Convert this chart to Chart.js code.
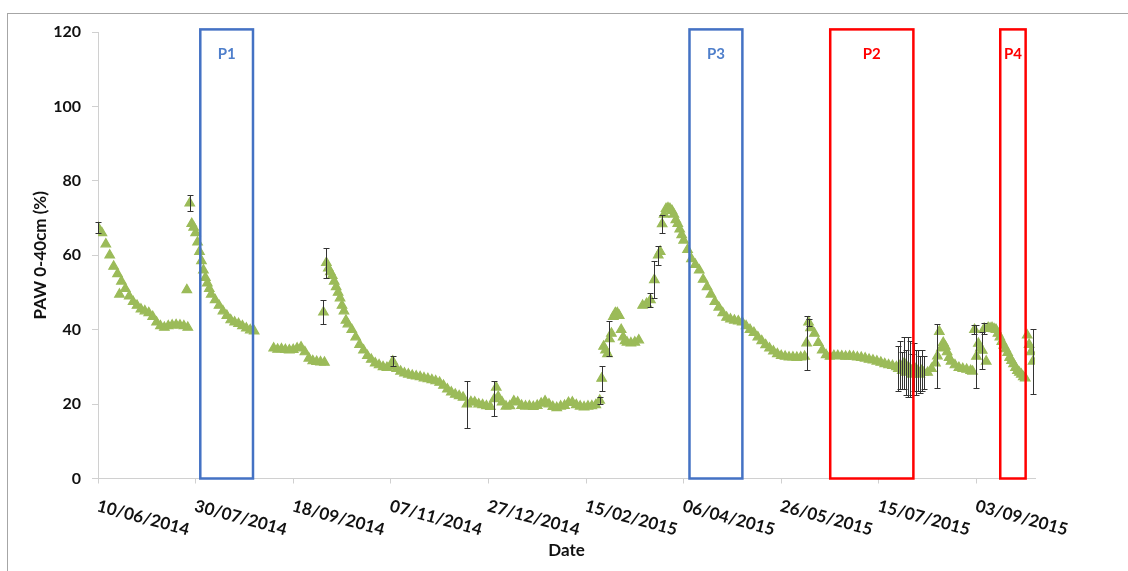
<!DOCTYPE html>
<html>
<head>
<meta charset="utf-8">
<script src="https://cdn.jsdelivr.net/npm/chart.js@4.4.1/dist/chart.umd.min.js"></script>
<style>
  html, body { margin: 0; padding: 0; background: #fff; }
  #wrap { position: relative; width: 1128px; height: 571px; overflow: hidden; }
  #frame { position: absolute; left: 7px; top: 13px; width: 1200px; height: 700px; border: 1px solid #a6a6a6; }
  canvas { position: absolute; left: 0; top: 0; }
</style>
</head>
<body>
<div id="wrap">
  <div id="frame"></div>
  <canvas id="pawChart" width="1128" height="571"></canvas>
</div>
<script>
// days counted from 10/06/2014
const dayOffsets = [
    0, 2, 4, 6, 8, 10, 11, 12, 14, 16, 18, 20, 22, 24, 26, 28, 30, 32, 34, 36, 38, 40, 42, 44, 46, 45.5, 47,
    48, 49, 50, 51, 52, 53, 54, 55, 56, 57, 58, 60, 62, 64, 66, 68, 70, 72, 74, 76, 78, 80,
    90, 92, 94, 96, 98, 100, 102, 104, 106, 108, 110, 112, 114, 116, 115.5,
    117, 118, 119, 120, 121, 122, 123, 124, 125, 126, 127, 128, 130, 132, 134, 136, 138, 140, 142, 144, 146, 148, 150, 151,
    153, 155, 157, 159, 161, 163, 165, 167, 169, 171, 173, 175, 177, 179, 181, 183, 185, 187, 189, 191, 193, 195, 197, 199,
    201, 203, 204, 205, 207, 209, 211, 213, 215, 217, 219, 221, 223, 225, 227, 229, 231, 233, 235, 237, 239, 241, 243, 245,
    247, 249, 251, 253, 255, 257, 258, 259, 260, 261, 262, 263, 264, 265, 266, 267, 268, 269, 270, 271, 273, 275, 277,
    279, 281, 283, 285, 287, 288, 289, 290, 291, 292, 293, 294, 295, 296, 297, 298, 299, 300, 302, 304, 306, 308, 310,
    312, 314, 316, 318, 320, 322, 324, 326, 328, 330, 332, 334, 336, 338, 340, 342, 344, 346, 348, 350, 352, 354, 356,
    358, 360, 362, 363, 364, 365, 367, 369, 371, 373, 375, 377, 379, 381, 383, 385, 387, 389, 391, 393, 395, 397, 399,
    401, 403, 405, 407, 409, 410, 411, 412, 413, 414, 415, 416, 417, 418, 419, 420, 421, 422, 423, 425, 427, 429, 430,
    431, 432, 433, 434, 435, 436, 437, 439, 441, 443, 445, 447, 448, 449, 450, 451, 452, 453, 454, 455, 456, 457, 458,
    459, 460, 461, 462, 463, 464, 465, 466, 467, 468, 469, 470, 471, 472, 473, 474, 475, 476, 477, 478, 479
];
const pawValues = [
    67.5, 66, 63, 60, 57, 55, 49.5, 53, 51, 49, 47.5, 46.5, 45.5, 45, 44.5, 43.5, 42, 41, 40.6, 41, 41.2, 41.3, 41.2, 41, 40.6, 50.7, 74,
    68.5, 67.5, 66, 63.5, 61, 58.5, 56, 54, 52.5, 51, 49.5, 48, 46.5, 45, 43.8, 42.6, 42, 41.6, 41, 40.4, 39.9, 39.6,
    35, 34.7, 34.8, 34.6, 34.5, 34.6, 35, 35.3, 34, 32.3, 31.6, 31.4, 31.3, 31.2, 44.7,
    58, 56.5, 55.5, 54.5, 53, 51.5, 50, 48.5, 46.5, 45, 42.5, 41.5, 40, 38, 36, 34.5, 33, 32, 31, 30.5, 30, 29.8, 30.2, 31.5,
    29.5, 28.8, 28.3, 28, 27.7, 27.5, 27.3, 27, 26.8, 26.5, 26.2, 25.8, 25, 24, 23.2, 22.6, 22.2, 21.8, 20, 20.6, 20.5, 20, 19.8, 19.5,
    19.3, 21.4, 24.5, 22, 20.5, 19.4, 19.5, 20.8, 20.5, 19.6, 19.4, 19.5, 19.3, 19.6, 20.2, 20.8, 20, 19.3, 19, 19.4, 19.6, 20.4, 20.5, 19.8,
    19.4, 19.2, 19.4, 19.5, 19.8, 21, 26.9, 35.5, 34.5, 33.5, 37.5, 39, 43.5, 44.5, 44.5, 43.8, 40, 38, 37, 36.6, 36.4, 36.6, 37.2,
    46.5, 47, 48, 53.4, 60, 61, 68.4, 71, 72.5, 72.7, 72.5, 72, 71, 69.5, 68.5, 67, 65.5, 64, 61.5, 59, 57.5, 56, 53.5,
    51.5, 49.5, 47.5, 46, 44.5, 43.3, 42.8, 42.5, 42.3, 42, 41, 40, 39.2, 38, 37, 35.9, 35, 34.2, 33.5, 33, 32.8, 32.6, 32.6,
    32.5, 32.6, 32.8, 36.4, 42, 40.5, 39, 36.5, 34.5, 33.2, 32.8, 33, 33, 32.9, 32.8, 32.9, 32.8, 32.6, 32.5, 32.3, 32, 31.8, 31.5,
    31.2, 30.8, 30.5, 30.3, 30, 29.5, 30.5, 29, 31, 28.5, 30, 29.5, 28, 30, 28.5, 29, 28, 29, 28.5, 28.5, 29.5, 31, 32.9,
    39.5, 35, 36.5, 35.5, 34, 32.5, 31.5, 30.5, 29.8, 29.5, 29.3, 29, 28.8, 40, 32.8, 36.3, 35, 34.4, 40.3, 31.5, 40.5, 40.4, 40.5,
    40.2, 40, 39, 38, 36.8, 35.8, 34.8, 33.8, 32.5, 31.7, 30.8, 29.8, 29, 28.5, 28, 27.3, 27, 38.5, 36, 34, 31.5
];
// error bars (± PAW %) on the points where they are visible
const errorDays = [0, 47, 115.5, 117, 151, 189, 203, 257, 258, 262, 283, 285, 287, 289, 363, 364,
    410, 411, 412, 413, 414, 415, 416, 417, 418, 419, 420, 421, 422, 423, 430, 449, 450, 453, 454, 479];
const errorSizes = [1.5, 2.1, 3.3, 4, 1.3, 6.3, 4.7, 1, 3.4, 4.7, 1.8, 5, 2.5, 2.5, 7.2, 1,
    6, 6.5, 5, 7, 6, 8, 7.5, 5.5, 6.5, 6, 5.5, 5, 5.5, 4.5, 8.7, 1.2, 8.5, 5, 1.5, 8.7];

const dateLabels = ['10/06/2014', '30/07/2014', '18/09/2014', '07/11/2014', '27/12/2014',
    '15/02/2015', '06/04/2015', '26/05/2015', '15/07/2015', '03/09/2015'];

const periodLabels = ['P1', 'P3', 'P2', 'P4'];
const periodStart = [52.4, 303, 375.1, 462.2];
const periodEnd = [79.4, 330.1, 417.7, 475.2];
const periodColors = ['#4472C4', '#4472C4', '#FF0000', '#FF0000'];
const periodTextColors = ['#4F7FCB', '#4F7FCB', '#FF0000', '#FF0000'];

const FONT = 'Lato, "Open Sans", sans-serif';

const errorBarPlugin = {
    id: 'errorBars',
    afterDatasetsDraw(chart) {
        const { ctx, scales: { x, y } } = chart;
        ctx.save();
        ctx.strokeStyle = '#333333';
        ctx.lineWidth = 1;
        errorDays.forEach((d, i) => {
            const idx = dayOffsets.indexOf(d);
            if (idx < 0) return;
            const v = pawValues[idx], e = errorSizes[i];
            const px = Math.round(x.getPixelForValue(d)) + 0.5;
            const top = Math.round(y.getPixelForValue(v + e)) + 0.5;
            const bot = Math.round(y.getPixelForValue(v - e)) + 0.5;
            ctx.beginPath();
            ctx.moveTo(px, top); ctx.lineTo(px, bot);
            ctx.moveTo(px - 3, top); ctx.lineTo(px + 3, top);
            ctx.moveTo(px - 3, bot); ctx.lineTo(px + 3, bot);
            ctx.stroke();
        });
        ctx.restore();
    }
};

const decorPlugin = {
    id: 'decor',
    afterDraw(chart) {
        const { ctx, chartArea, scales: { x, y } } = chart;
        ctx.save();

        // period boxes
        periodLabels.forEach((lab, i) => {
            const l = x.getPixelForValue(periodStart[i]);
            const r = x.getPixelForValue(periodEnd[i]);
            const t = y.getPixelForValue(120.7);
            const b = y.getPixelForValue(0);
            ctx.strokeStyle = periodColors[i];
            ctx.lineWidth = 2.5;
            ctx.strokeRect(l, t, r - l, b - t);
            ctx.fillStyle = periodTextColors[i];
            ctx.font = 'bold 15px ' + FONT;
            ctx.textAlign = 'center';
            ctx.textBaseline = 'middle';
            ctx.fillText(lab, (l + r) / 2, t + 25);
        });

        // rotated date labels
        ctx.fillStyle = '#111';
        ctx.font = 'bold 17px ' + FONT;
        ctx.textAlign = 'left';
        ctx.textBaseline = 'alphabetic';
        x.ticks.forEach(t => {
            const lab = dateLabels[Math.round(t.value / 50)];
            if (!lab) return;
            ctx.save();
            ctx.translate(x.getPixelForValue(t.value) - 2, 511);
            ctx.rotate(15 * Math.PI / 180);
            ctx.fillText(lab, 0, 0);
            ctx.restore();
        });

        // axis titles
        ctx.textAlign = 'center';
        ctx.textBaseline = 'middle';
        ctx.fillText('Date', (chartArea.left + chartArea.right) / 2, 551);
        ctx.save();
        ctx.translate(41, (chartArea.top + chartArea.bottom) / 2);
        ctx.rotate(-Math.PI / 2);
        ctx.fillText('PAW 0-40cm (%)', 0, 0);
        ctx.restore();

        ctx.restore();
    }
};

new Chart(document.getElementById('pawChart'), {
    type: 'scatter',
    data: {
        datasets: [{
            label: 'PAW 0-40cm',
            data: dayOffsets.map((d, i) => ({ x: d, y: pawValues[i] })),
            pointStyle: 'triangle',
            pointRadius: 5.5,
            pointBorderWidth: 1.2,
            backgroundColor: '#9BBB59',
            borderColor: '#9BBB59'
        }]
    },
    options: {
        responsive: false,
        animation: false,
        layout: { padding: { top: 32, right: 93, left: 0, bottom: 0 } },
        plugins: {
            legend: { display: false },
            tooltip: { enabled: false }
        },
        scales: {
            x: {
                type: 'linear',
                min: 0,
                max: 480,
                afterFit: (scale) => { scale.height = 92.5; },
                ticks: { stepSize: 50, includeBounds: false, display: false },
                grid: { drawOnChartArea: false, tickLength: 5, color: '#d0d0d0' },
                border: { color: '#d0d0d0' }
            },
            y: {
                min: 0,
                max: 120,
                afterFit: (scale) => { scale.width = 98; },
                ticks: {
                    stepSize: 20,
                    padding: 11,
                    color: '#111',
                    font: { family: FONT, size: 16, weight: 'bold' }
                },
                grid: { drawOnChartArea: false, tickLength: 6, color: '#d0d0d0' },
                border: { color: '#d0d0d0' }
            }
        }
    },
    plugins: [errorBarPlugin, decorPlugin]
});
</script>
</body>
</html>
